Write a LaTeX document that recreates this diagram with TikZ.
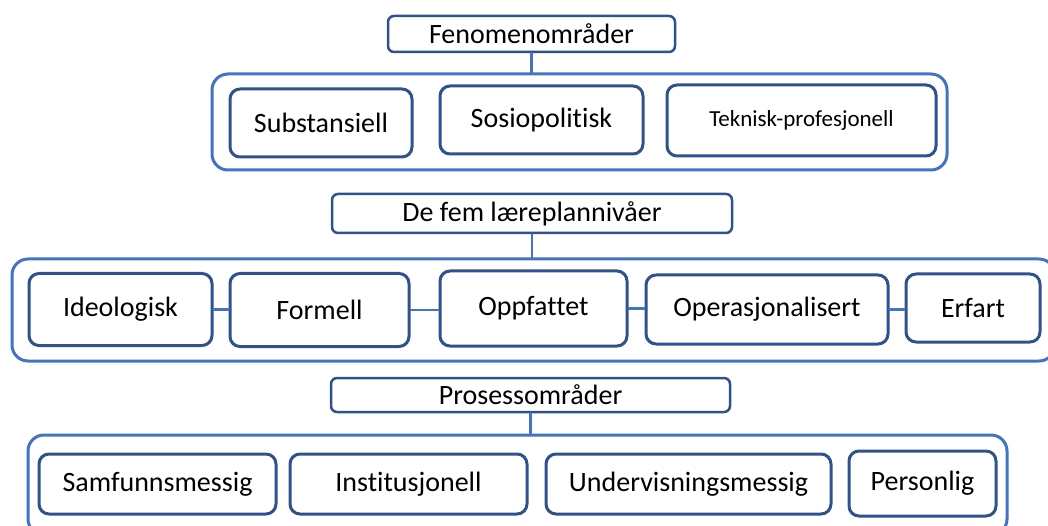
\documentclass[tikz,border=0pt]{standalone}
\usepackage{fontspec}
\setmainfont{Carlito}[Ligatures=NoCommon]
\usepackage{tikz}
\usetikzlibrary{positioning,calc}

\definecolor{boxblue}{HTML}{2F528F}
\definecolor{grpblue}{HTML}{4472C4}

\begin{document}
\begin{tikzpicture}[x=1pt,y=-1pt, line cap=round, line join=round,
	headbox/.style={draw=boxblue, line width=2.5pt, rounded corners=6pt, fill=white, inner sep=0pt, font=\fontsize{28}{32}\selectfont},
	grpbox/.style={draw=grpblue, line width=3pt, rounded corners=16pt, inner sep=0pt},
	itembox/.style={draw=boxblue, line width=3pt, rounded corners=10pt, fill=white, inner sep=0pt, font=\fontsize{28}{32}\selectfont},
	link/.style={draw=grpblue, line width=2.5pt}]
	\useasboundingbox (0,0) rectangle (1048,526);
	\clip (0,0) rectangle (1048,526);
	
	% ===== Fenomenområder =====
	\node[headbox, minimum width=287, minimum height=36] (fenom) at (531.5,34) {Fenomenområder};
	\node[grpbox, minimum width=735, minimum height=96] (grpA) at (579.5,122) {};
	\node[itembox, minimum width=182, minimum height=68] (subst) at (321,123) {Substansiell};
	\node[itembox, minimum width=203, minimum height=68] (sosio) at (541.5,120) {Sosiopolitisk};
	\node[itembox, minimum width=269, minimum height=71, font=\fontsize{23}{27}\selectfont] (tekn) at (801.5,120.5) {Teknisk-profesjonell};
	\draw[link] (fenom.south) -- (fenom.south |- grpA.north);
	
	% ===== De fem læreplannivåer =====
	\node[headbox, minimum width=400, minimum height=39] (nivaa) at (532,213.5) {De fem læreplannivåer};
	\node[grpbox, minimum width=1043, minimum height=102] (grpB) at (533.5,310) {};
	\node[itembox, minimum width=183, minimum height=72] (ideo) at (120.5,309.5) {Ideologisk};
	\node[itembox, minimum width=179, minimum height=73] (form) at (319.5,310) {Formell};
	\node[itembox, minimum width=187, minimum height=75] (oppf) at (533.5,308.5) {Oppfattet};
	\node[itembox, minimum width=242, minimum height=69] (oper) at (767,309.5) {Operasjonalisert};
	\node[itembox, minimum width=134, minimum height=68] (erf) at (973,308) {Erfart};
	\draw[link] (nivaa.south) -- (nivaa.south |- grpB.north);
	\foreach \a/\b in {ideo/form,form/oppf,oppf/oper,oper/erf}{
		\draw[link] (\a.east) -- (\a.east -| \b.west);
	}
	
	% ===== Prosessområder =====
	\node[headbox, minimum width=399, minimum height=34] (prosess) at (530.5,395) {Prosessområder};
	\node[grpbox, minimum width=979, minimum height=100] (grpC) at (517.5,485) {};
	\node[itembox, minimum width=237, minimum height=60] (samf) at (157.5,484) {Samfunnsmessig};
	\node[itembox, minimum width=237, minimum height=60] (inst) at (408.5,484) {Institusjonell};
	\node[itembox, minimum width=285, minimum height=60] (underv) at (688.5,484) {Undervisningsmessig};
	\node[itembox, minimum width=147, minimum height=65] (pers) at (922.5,483.5) {Personlig};
	\draw[link] (prosess.south) -- (prosess.south |- grpC.north);
\end{tikzpicture}
\end{document}
